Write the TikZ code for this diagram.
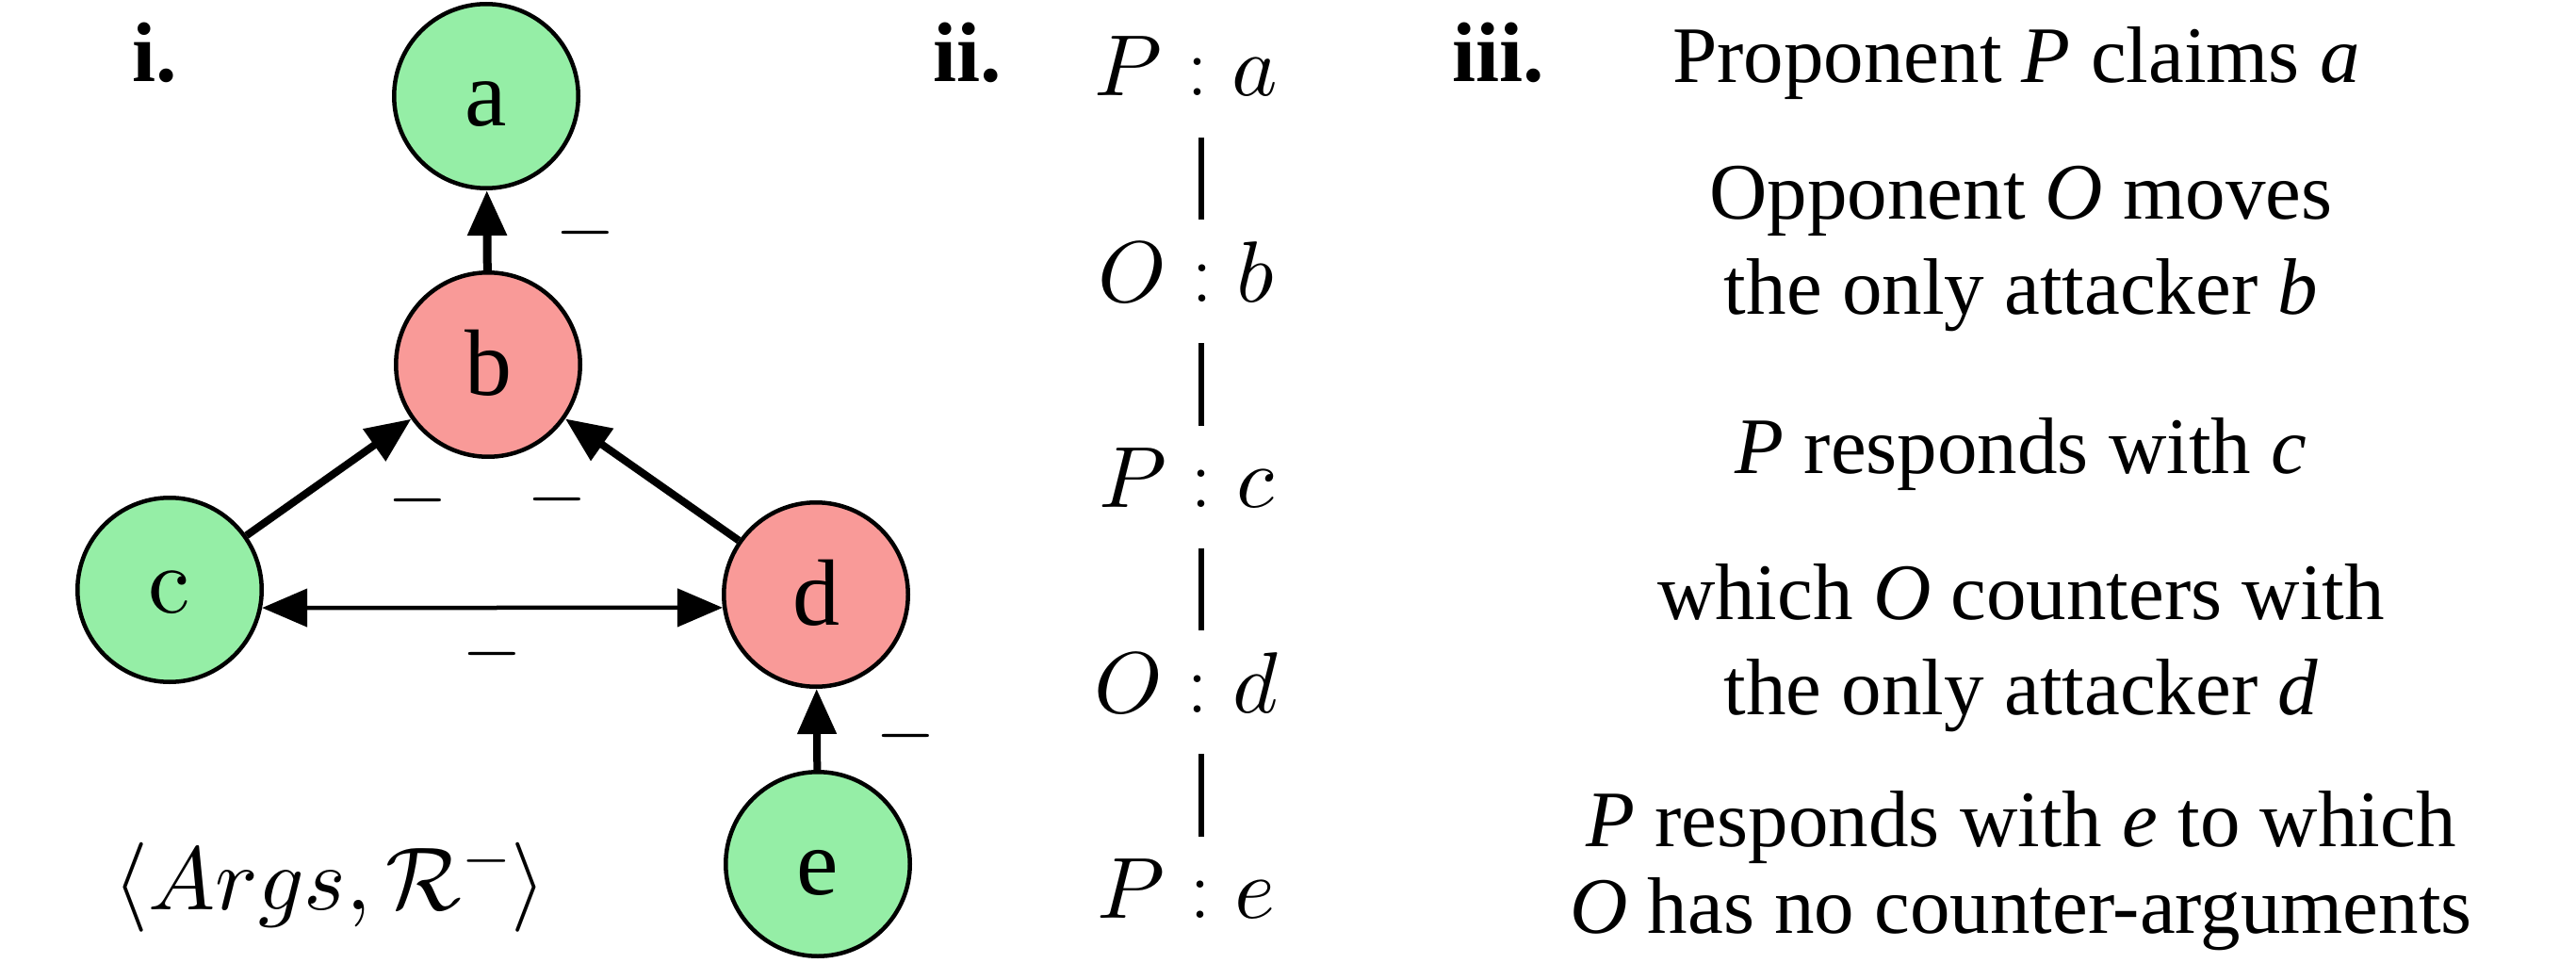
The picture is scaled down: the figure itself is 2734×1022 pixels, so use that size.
\documentclass[tikz,border=0pt]{standalone}
\usepackage{fix-cm}
\DeclareFontShape{OML}{cmm}{m}{it}{<->cmmi10}{}
\DeclareFontShape{OMS}{cmsy}{m}{n}{<->cmsy10}{}
\DeclareFontShape{OMX}{cmex}{m}{n}{<->cmex10}{}
\usepackage{fontspec}
\setmainfont{Liberation Serif}
\newfontfamily\lmrfont{lmroman10-regular.otf}
\usetikzlibrary{arrows.meta}
\definecolor{ngreen}{RGB}{149,238,166}
\definecolor{nred}{RGB}{249,154,152}
\begin{document}
\begin{tikzpicture}[x=1pt,y=-1pt,
  arg/.style={circle,draw=black,line width=4.5pt,minimum size=195.5pt,inner sep=0pt,
    text height=64pt,text depth=0pt,font=\fontsize{100}{100}\selectfont},
  pro/.style={arg,fill=ngreen},
  opp/.style={arg,fill=nred},
  tip/.tip={Triangle[length=48pt,width=40pt]},
  att/.style={-tip},
  minus/.style={inner sep=0pt,font=\fontsize{82}{82}\selectfont},
  panel/.style={anchor=base,inner sep=0pt,font=\fontsize{90}{90}\selectfont\bfseries},
  move/.style={anchor=base,inner sep=0pt,font=\fontsize{92}{92}\selectfont},
  desc/.style={anchor=base,inner sep=0pt,font=\fontsize{85}{100}\selectfont},
  bar/.style={line width=5.5pt}]
\useasboundingbox (0,0) rectangle (2734,1022);

% panel labels
\node[panel] (l1) at (164,87) {i.};
\node[panel] (l2) at (1027,87) {ii.};
\node[panel] (l3) at (1590,87) {iii.};

% panel i: graph
\node[pro] (a) at (516,102) {a};
\node[opp] (b) at (518,387) {b};
\node[pro,text height=48pt] (c) at (180,626) {\lmrfont c};
\node[opp] (d) at (866,631) {d};
\node[pro] (e) at (868,917) {e};

\draw[att,line width=9pt] (b) -- (a);
\draw[att,line width=8pt] (c) -- (b);
\draw[att,line width=8pt] (d) -- (b);
\draw[tip-tip,line width=4.5pt] (c.-11.5) -- (d.188.6);
\draw[att,line width=8pt] (e) -- (d);

\node[minus] (mn1) at (621,247) {$-$};
\node[minus] (mn2) at (443,531) {$-$};
\node[minus] (mn3) at (591,530) {$-$};
\node[minus] (mn4) at (522,694) {$-$};
\node[minus] (mn5) at (961,781) {$-$};

\node[anchor=base,inner sep=0pt,font=\fontsize{95}{95}\selectfont] (sig) at (350,965)
  {$\langle Args, \mathcal{R}^{-}\rangle$};

% panel ii: dialogue
\node[move] (mva) at (1259,102) {$P : a$};
\node[move] (mvb) at (1259,320) {$O : b$};
\node[move] (mvc) at (1259,538) {$P : c$};
\node[move] (mvd) at (1259,756) {$O : d$};
\node[move] (mve) at (1259,974) {$P : e$};
\foreach \u/\v in {mva/mvb,mvb/mvc,mvc/mvd,mvd/mve}
  \draw[bar,shorten <=44pt,shorten >=23pt] ([xshift=16pt]\u.south) -- ([xshift=16pt]\v.north);

% panel iii: description
\node[desc] (t1) at (2140,88) {Proponent \textit{P} claims \textit{a}};
\node[desc] (t2a) at (2145,232) {Opponent \textit{O} moves};
\node[desc] (t2b) at (2145,333) {the only attacker \textit{b}};
\node[desc] (t3) at (2145,502) {\textit{P} responds with \textit{c}};
\node[desc] (t4a) at (2145,657) {which \textit{O} counters with};
\node[desc] (t4b) at (2145,758) {the only attacker \textit{d}};
\node[desc] (t5a) at (2145,898) {\textit{P} responds with \textit{e} to which};
\node[desc] (t5b) at (2145,990) {\textit{O} has no counter-arguments};
\end{tikzpicture}
\end{document}
